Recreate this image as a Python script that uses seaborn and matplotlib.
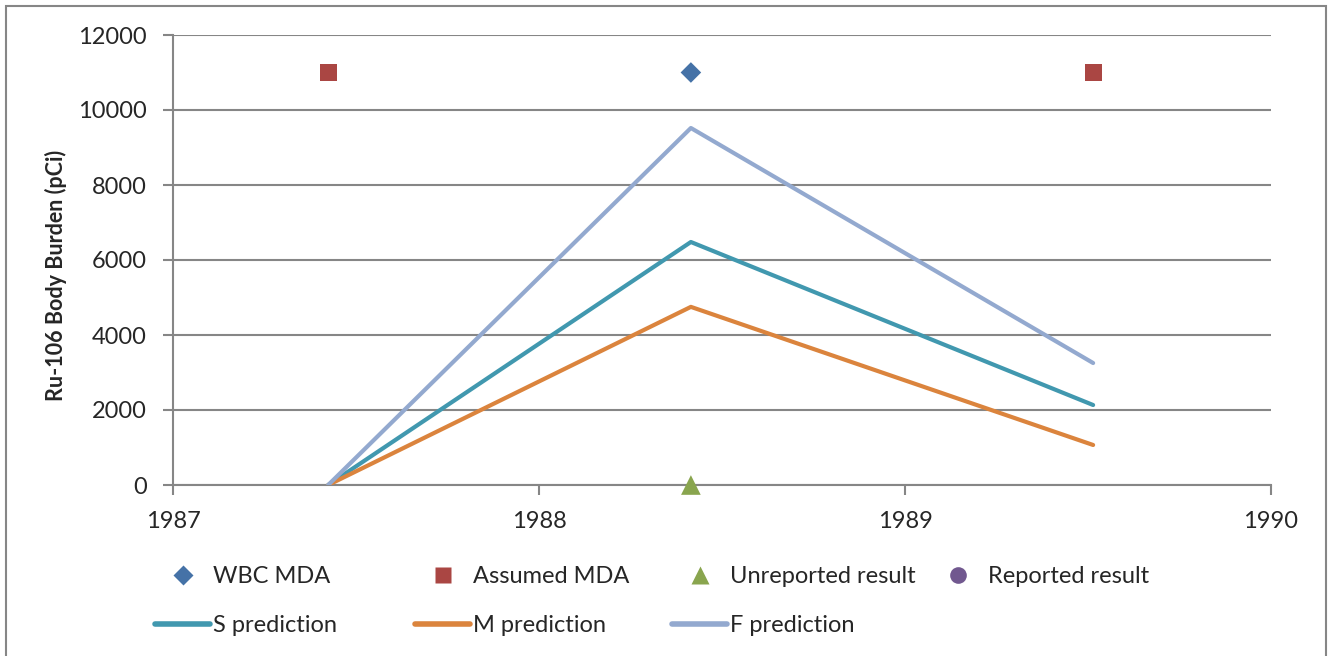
import matplotlib
matplotlib.use("Agg")
import matplotlib.pyplot as plt
import seaborn as sns
import pandas as pd
from matplotlib.lines import Line2D
from matplotlib.patches import Rectangle

# Intake / measurement dates (decimal years)
pred_years = [1987.424, 1988.415, 1989.514]
s_pred = [0, 6480, 2133]
m_pred = [0, 4750, 1067]
f_pred = [0, 9520, 3253]

wbc_years = [1988.415]
wbc_mda = [11000]
assumed_years = [1987.424, 1989.514]
assumed_mda = [11000, 11000]
unrep_years = [1988.415]
unrep_vals = [0]
rep_years = []
rep_vals = []

x_ticks = [1987, 1988, 1989, 1990]
y_ticks = [0, 2000, 4000, 6000, 8000, 10000, 12000]

C_WBC = "#4572A7"
C_ASSUMED = "#AA4643"
C_UNREP = "#89A54E"
C_REP = "#71588F"
C_S = "#4198AF"
C_M = "#DB843D"
C_F = "#93A9CF"
GRID = "#868686"
FS = 17

sns.set_theme(style="white")
plt.rcParams["font.family"] = ["Lato", "DejaVu Sans"]

fig = plt.figure(figsize=(13.28, 6.56), dpi=100)
ax = fig.add_axes([173 / 1328, 1 - 485 / 656, (1271 - 173) / 1328, 450 / 656])

lines = pd.DataFrame({"year": pred_years * 3,
                      "value": s_pred + m_pred + f_pred,
                      "series": ["S prediction"] * 3 + ["M prediction"] * 3 + ["F prediction"] * 3})
sns.lineplot(data=lines, x="year", y="value", hue="series",
             palette={"S prediction": C_S, "M prediction": C_M, "F prediction": C_F},
             hue_order=["S prediction", "M prediction", "F prediction"],
             linewidth=3, ax=ax, legend=False, solid_capstyle="round", zorder=3)

sns.scatterplot(x=wbc_years, y=wbc_mda, marker="D", s=110, color=C_WBC,
                edgecolor="none", ax=ax, zorder=4)
sns.scatterplot(x=assumed_years, y=assumed_mda, marker="s", s=150, color=C_ASSUMED,
                edgecolor="none", ax=ax, zorder=4)
sns.scatterplot(x=unrep_years, y=unrep_vals, marker="^", s=200, color=C_UNREP,
                edgecolor="none", ax=ax, zorder=5, clip_on=False)
if rep_years:
    sns.scatterplot(x=rep_years, y=rep_vals, marker="o", s=150, color=C_REP,
                    edgecolor="none", ax=ax, zorder=4)

ax.set_xlim(1987, 1990)
ax.set_ylim(0, 12000)
ax.set_xticks(x_ticks)
ax.set_yticks(y_ticks)
ax.set_xticklabels([str(t) for t in x_ticks], fontsize=FS)
ax.set_yticklabels([str(t) for t in y_ticks], fontsize=FS)
ax.set_xlabel("")
ax.set_ylabel("Ru-106 Body Burden (pCi)", fontsize=15.5, fontweight="bold")
ax.yaxis.set_label_coords((67 - 173) / 1098, (485 - 275) / 450)

ax.yaxis.grid(True, color=GRID, linewidth=1.5)
ax.set_axisbelow(True)
for side in ["top", "right"]:
    ax.spines[side].set_visible(False)
for side in ["left", "bottom"]:
    ax.spines[side].set_color(GRID)
    ax.spines[side].set_linewidth(1.5)
ax.tick_params(axis="both", which="both", direction="out", length=7, width=1.5,
               color=GRID, left=True, bottom=True)
ax.tick_params(axis="y", pad=12)
ax.tick_params(axis="x", pad=12)

# Legend, laid out as four columns in two rows
h_wbc = Line2D([], [], linestyle="none", marker="D", markersize=10, color=C_WBC, markeredgecolor="none")
h_ass = Line2D([], [], linestyle="none", marker="s", markersize=12, color=C_ASSUMED, markeredgecolor="none")
h_unr = Line2D([], [], linestyle="none", marker="^", markersize=13, color=C_UNREP, markeredgecolor="none")
h_rep = Line2D([], [], linestyle="none", marker="o", markersize=12, color=C_REP, markeredgecolor="none")
h_s = Line2D([], [], color=C_S, linewidth=4, solid_capstyle="round")
h_m = Line2D([], [], color=C_M, linewidth=4, solid_capstyle="round")
h_f = Line2D([], [], color=C_F, linewidth=4, solid_capstyle="round")

columns = [
    (155, [h_wbc, h_s], ["WBC MDA", "S prediction"]),
    (415, [h_ass, h_m], ["Assumed MDA", "M prediction"]),
    (672, [h_unr, h_f], ["Unreported result", "F prediction"]),
    (930, [h_rep], ["Reported result"]),
]
for x0, hs, ls in columns:
    fig.legend(hs, ls, loc="upper left",
               bbox_to_anchor=(x0 / 1328, 1 - 566 / 656),
               frameon=False, fontsize=FS, handlelength=2.35,
               handletextpad=0.1, borderaxespad=0, borderpad=0,
               labelspacing=1.18)

fig.patches.append(Rectangle((6 / 1328, -0.05), (1326 - 6) / 1328, 1.05 - 6 / 656,
                             transform=fig.transFigure, fill=False,
                             edgecolor=GRID, linewidth=1.5))

fig.savefig("out.png", dpi=100)
